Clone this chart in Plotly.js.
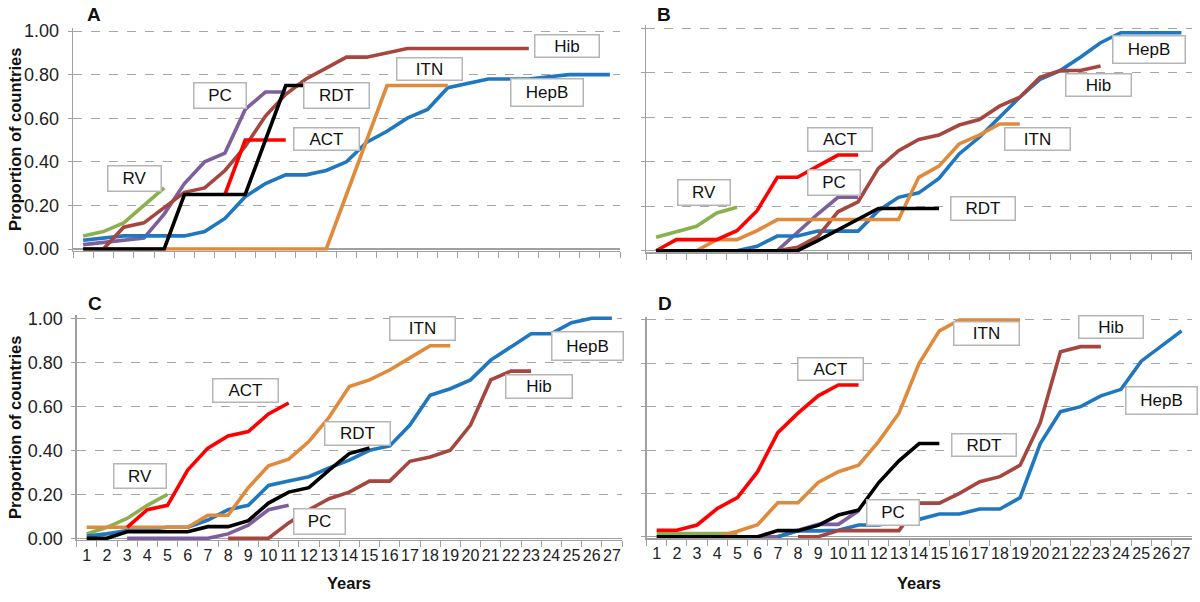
<!DOCTYPE html>
<html>
<head>
<meta charset="utf-8">
<script src="https://cdn.plot.ly/plotly-3.0.1.min.js"></script>
<style>html,body{margin:0;padding:0;background:#fff;}#chart{width:1200px;height:602px;}</style>
</head>
<body>
<div id="chart"></div>
<script>
// ---------- DATA ----------
const years = ['1','2','3','4','5','6','7','8','9','10','11','12','13','14','15','16','17','18','19','20','21','22','23','24','25','26','27'];
const seriesNames = ['RV','PC','HepB','Hib','ITN','ACT','RDT'];
const N = null;

// Panel A
const A_RV   = [0.06,0.08,0.12,0.20,0.28,N,N,N,N,N,N,N,N,N,N,N,N,N,N,N,N,N,N,N,N,N,N];
const A_PC   = [0.02,0.03,0.04,0.05,0.16,0.30,0.40,0.44,0.64,0.72,0.72,N,N,N,N,N,N,N,N,N,N,N,N,N,N,N,N];
const A_HepB = [0.04,0.05,0.06,0.06,0.06,0.06,0.08,0.14,0.24,0.30,0.34,0.34,0.36,0.40,0.49,0.54,0.60,0.64,0.74,0.76,0.78,0.78,0.78,0.79,0.80,0.80,0.80];
const A_Hib  = [N,0.00,0.10,0.12,0.19,0.26,0.28,0.36,0.47,0.61,0.71,0.78,0.83,0.88,0.88,0.90,0.92,0.92,0.92,0.92,0.92,0.92,0.92,N,N,N,N];
const A_ITN  = [0,0,0,0,0,0,0,0,0,0,0,0,0,0.25,0.50,0.75,0.75,0.75,0.75,N,N,N,N,N,N,N,N];
const A_ACT  = [N,N,N,N,N,N,N,0.25,0.50,0.50,0.50,N,N,N,N,N,N,N,N,N,N,N,N,N,N,N,N];
const A_RDT  = [0,0,0,0,0,0.25,0.25,0.25,0.25,0.50,0.75,0.75,0.75,0.75,0.75,N,N,N,N,N,N,N,N,N,N,N,N];

// Panel B
const B_RV   = [0.06,0.085,0.11,0.17,0.195,N,N,N,N,N,N,N,N,N,N,N,N,N,N,N,N,N,N,N,N,N,N];
const B_PC   = [N,N,N,N,N,N,0,0.085,0.165,0.24,0.24,N,N,N,N,N,N,N,N,N,N,N,N,N,N,N,N];
const B_HepB = [N,N,N,N,0,0.02,0.066,0.066,0.088,0.088,0.088,0.18,0.24,0.26,0.325,0.435,0.51,0.60,0.69,0.77,0.81,0.87,0.935,0.98,0.98,0.98,0.98];
const B_Hib  = [N,N,N,N,N,N,0,0.015,0.063,0.175,0.22,0.37,0.45,0.50,0.52,0.565,0.59,0.65,0.69,0.78,0.81,0.81,0.83,N,N,N,N];
const B_ITN  = [N,N,0,0.05,0.05,0.09,0.14,0.14,0.14,0.14,0.14,0.14,0.14,0.33,0.38,0.48,0.52,0.57,0.57,N,N,N,N,N,N,N,N];
const B_ACT  = [0,0.05,0.05,0.05,0.09,0.18,0.33,0.33,0.38,0.43,0.43,N,N,N,N,N,N,N,N,N,N,N,N,N,N,N,N];
const B_RDT  = [0,0,0,0,0,0,0,0,0.045,0.093,0.14,0.19,0.19,0.19,0.19,N,N,N,N,N,N,N,N,N,N,N,N];

// Panel C
const C_RV   = [0.02,0.05,0.09,0.15,0.20,N,N,N,N,N,N,N,N,N,N,N,N,N,N,N,N,N,N,N,N,N,N];
const C_PC   = [N,N,0,0,0,0,0,0.02,0.06,0.13,0.15,N,N,N,N,N,N,N,N,N,N,N,N,N,N,N,N];
const C_HepB = [0.01,0.02,0.035,0.04,0.05,0.05,0.083,0.13,0.15,0.24,0.26,0.28,0.32,0.355,0.40,0.42,0.515,0.65,0.68,0.72,0.81,0.87,0.93,0.93,0.98,1.0,1.0];
const C_Hib  = [N,N,N,N,N,N,N,0,0,0,0.07,0.13,0.18,0.21,0.26,0.26,0.35,0.37,0.40,0.515,0.72,0.76,0.76,N,N,N,N];
const C_ITN  = [0.05,0.05,0.05,0.05,0.05,0.05,0.105,0.105,0.23,0.33,0.36,0.44,0.55,0.69,0.72,0.765,0.82,0.875,0.875,N,N,N,N,N,N,N,N];
const C_ACT  = [N,N,0.05,0.13,0.15,0.31,0.41,0.465,0.485,0.565,0.615,N,N,N,N,N,N,N,N,N,N,N,N,N,N,N,N];
const C_RDT  = [0,0,0.03,0.03,0.03,0.03,0.053,0.053,0.08,0.16,0.21,0.23,0.31,0.385,0.41,N,N,N,N,N,N,N,N,N,N,N,N];

// Panel D
const D_RV   = [0.015,0.015,0.015,0.015,0.015,N,N,N,N,N,N,N,N,N,N,N,N,N,N,N,N,N,N,N,N,N,N];
const D_PC   = [N,N,N,N,N,0,0,0.03,0.057,0.057,0.12,N,N,N,N,N,N,N,N,N,N,N,N,N,N,N,N];
const D_HepB = [N,N,N,N,N,N,0,0.027,0.027,0.03,0.054,0.054,0.07,0.08,0.105,0.105,0.128,0.128,0.18,0.43,0.577,0.60,0.65,0.68,0.81,0.88,0.95];
const D_Hib  = [N,N,N,N,N,N,N,0,0,0.028,0.028,0.028,0.028,0.155,0.155,0.20,0.254,0.277,0.33,0.526,0.854,0.877,0.877,N,N,N,N];
const D_ITN  = [0,0,0,0,0.025,0.055,0.157,0.157,0.25,0.30,0.33,0.44,0.57,0.80,0.95,1.0,1.0,1.0,1.0,N,N,N,N,N,N,N,N];
const D_ACT  = [0.03,0.03,0.054,0.13,0.18,0.30,0.48,0.57,0.65,0.70,0.70,N,N,N,N,N,N,N,N,N,N,N,N,N,N,N,N];
const D_RDT  = [0,0,0,0,0,0,0.028,0.028,0.052,0.10,0.123,0.25,0.35,0.43,0.43,N,N,N,N,N,N,N,N,N,N,N,N];

const yTickVals  = [0,0.2,0.4,0.6,0.8,1.0];
const yTickText  = ['0.00','0.20','0.40','0.60','0.80','1.00'];
const panelLetters = ['A','B','C','D'];
const yTitle = 'Proportion of countries';
const xTitle = 'Years';

// ---------- STYLE ----------
const colors = {RV:'#8cb050', PC:'#7d5f9d', HepB:'#1f77c0', Hib:'#a5463f', ITN:'#e08a3c', ACT:'#ff0000', RDT:'#000000'};
const panels = [
  {key:'A', data:{RV:A_RV,PC:A_PC,HepB:A_HepB,Hib:A_Hib,ITN:A_ITN,ACT:A_ACT,RDT:A_RDT}},
  {key:'B', data:{RV:B_RV,PC:B_PC,HepB:B_HepB,Hib:B_Hib,ITN:B_ITN,ACT:B_ACT,RDT:B_RDT}},
  {key:'C', data:{RV:C_RV,PC:C_PC,HepB:C_HepB,Hib:C_Hib,ITN:C_ITN,ACT:C_ACT,RDT:C_RDT}},
  {key:'D', data:{RV:D_RV,PC:D_PC,HepB:D_HepB,Hib:D_Hib,ITN:D_ITN,ACT:D_ACT,RDT:D_RDT}}
];
const W = 1200, H = 602;
// pixel geometry: x0,x1 plot edges; yz = pixel of 0, yu = pixels per unit
const geom = [
  {x0:73,   x1:620,    yz:249.0, yu:218.0, labels:false, ylabels:true},
  {x0:646,  x1:1191.5, yz:250.7, yu:222.4, labels:false, ylabels:false},
  {x0:76.6, x1:622,    yz:538.3, yu:220.0, labels:true,  ylabels:true},
  {x0:646.6,x1:1191.7, yz:536.7, yu:216.7, labels:true,  ylabels:false}
];
const yMin = -0.008, yMax = 1.015;
const FONT = 'Liberation Sans, Arial, sans-serif';
const axisGray = '#a0a0a0';

const traces = [];
const layout = {
  width: W, height: H, margin:{l:0,r:0,t:0,b:0},
  paper_bgcolor:'#fff', plot_bgcolor:'#fff', showlegend:false,
  font:{family:FONT, color:'#222'}, annotations:[]
};

panels.forEach((p,i) => {
  const n = i===0 ? '' : String(i+1);
  const g = geom[i];
  seriesNames.forEach(s => {
    traces.push({
      type:'scatter', mode:'lines', x: years, y: p.data[s],
      xaxis:'x'+n, yaxis:'y'+n, name:s,
      line:{color:colors[s], width:3.6}, connectgaps:false, hoverinfo:'skip'
    });
  });
  const bottomPx = g.yz - yMin*g.yu, topPx = g.yz - yMax*g.yu;
  layout['xaxis'+n] = {
    domain:[g.x0/W, g.x1/W], anchor:'y'+n, type:'category', categoryorder:'array', categoryarray: years,
    range:[-0.5, years.length-0.5], tickson:'boundaries', ticks:'outside', ticklen:6, tickcolor:axisGray, tickwidth:1,
    showline:true, linecolor:axisGray, linewidth:1.3, showgrid:false, zeroline:false,
    showticklabels:g.labels, tickfont:{size:16, family:FONT, color:'#222'}, tickangle:0, fixedrange:true
  };
  layout['yaxis'+n] = {
    domain:[1-bottomPx/H, 1-topPx/H], anchor:'x'+n, range:[yMin,yMax],
    tickmode:'array', tickvals:yTickVals, ticktext:yTickText,
    ticks:'outside', ticklen:4, tickcolor:axisGray, showline:true, linecolor:axisGray, linewidth:1.3,
    showgrid:true, gridcolor:'#a6a6a6', griddash:'dash', gridwidth:1,
    zeroline:true, zerolinecolor:axisGray, zerolinewidth:1.3,
    showticklabels:g.ylabels, tickfont:{size:18, family:FONT, color:'#222'}, ticklabelstandoff:5, fixedrange:true
  };
});

function ann(text, cx, cy, w, h){
  layout.annotations.push({
    text:text, xref:'paper', yref:'paper', x:cx/W, y:1-cy/H, xanchor:'center', yanchor:'middle',
    showarrow:false, font:{size:17, family:FONT, color:'#111'},
    bgcolor:'#ffffff', bordercolor:'#b5b5b5', borderwidth:1.5, borderpad:0, width:w, height:h
  });
}
// Panel A labels
ann('Hib', 567, 46.5, 63, 21);
ann('ITN', 429, 68.5, 64, 21);
ann('HepB', 546.5, 92, 71, 26);
ann('PC', 219.5, 96, 51, 24);
ann('RDT', 336, 96, 64, 24);
ann('ACT', 326, 138.5, 64, 21);
ann('RV', 134, 178, 52, 24);
// Panel B labels
ann('HepB', 1148.5, 49, 71, 26);
ann('Hib', 1098, 84.5, 64, 21);
ann('ITN', 1037, 138.5, 64, 21);
ann('ACT', 839.5, 140, 63, 22);
ann('PC', 833.5, 182, 51, 24);
ann('RV', 703.5, 192, 51, 24);
ann('RDT', 982.5, 208, 63, 22);
// Panel C labels
ann('ITN', 422, 328, 64, 22);
ann('HepB', 587, 345.5, 70, 27);
ann('ACT', 245, 390, 64, 22);
ann('Hib', 538.5, 386, 65, 22);
ann('RDT', 357, 434, 64, 22);
ann('RV', 139.5, 475.5, 51, 23);
ann('PC', 319, 521, 50, 24);
// Panel D labels
ann('ITN', 986, 333, 64, 22);
ann('Hib', 1110.5, 326.5, 63, 21);
ann('ACT', 830, 368.5, 64, 21);
ann('HepB', 1161, 400, 70, 26);
ann('RDT', 983.5, 444.5, 63, 21);
ann('PC', 892.5, 512, 51, 24);

// Panel letters
const letterPos = [[94,15],[664,14],[95,303],[665,303]];
panelLetters.forEach((L,i)=>{
  layout.annotations.push({text:'<b>'+L+'</b>', xref:'paper', yref:'paper', x:letterPos[i][0]/W, y:1-letterPos[i][1]/H,
    xanchor:'center', yanchor:'middle', showarrow:false, font:{size:19, family:FONT, color:'#111'}});
});
// Axis titles
[[15,140],[15,428]].forEach(p=>{
  layout.annotations.push({text:'<b>'+yTitle+'</b>', xref:'paper', yref:'paper', x:p[0]/W, y:1-p[1]/H,
    xanchor:'center', yanchor:'middle', textangle:-90, showarrow:false, font:{size:16.5, family:FONT, color:'#111'}});
});
[[349,583],[919,583]].forEach(p=>{
  layout.annotations.push({text:'<b>'+xTitle+'</b>', xref:'paper', yref:'paper', x:p[0]/W, y:1-p[1]/H,
    xanchor:'center', yanchor:'middle', showarrow:false, font:{size:16.5, family:FONT, color:'#111'}});
});

Plotly.newPlot('chart', traces, layout, {staticPlot:true, displayModeBar:false});
</script>
</body>
</html>
